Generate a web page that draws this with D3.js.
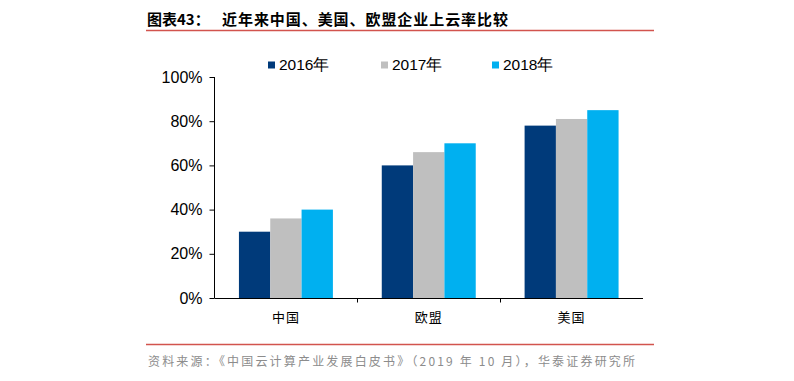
<!DOCTYPE html>
<html>
<head>
<meta charset="utf-8">
<script src="https://cdn.jsdelivr.net/npm/d3@7"></script>
<style>
  html, body { margin: 0; padding: 0; background: #fff; }
  svg { display: block; }
</style>
</head>
<body>
<div id="chart"></div>
<script>
const categories = ["中国", "欧盟", "美国"];
const seriesNames = ["2016年", "2017年", "2018年"];
const values2016 = [30, 60, 78];
const values2017 = [36, 66, 81];
const values2018 = [40, 70, 85];
const yTicks = [0, 20, 40, 60, 80, 100];
const titleLabel = "图表43：";
const titleText = "近年来中国、美国、欧盟企业上云率比较";
const sourceText = "资料来源：《中国云计算产业发展白皮书》（2019 年 10 月），华泰证券研究所";

const seriesValues = [values2016, values2017, values2018];
const colors = ["#003A7A", "#BFBFBF", "#00B0F0"];

const W = 794, H = 381;
const svg = d3.select("#chart").append("svg").attr("width", W).attr("height", H);

const cjk = "'Noto Sans CJK SC', 'Noto Sans', sans-serif";
const latin = "'Liberation Sans', Arial, sans-serif";

// Title
svg.append("text").attr("x", 147).attr("y", 25)
  .attr("font-family", cjk).attr("font-size", 15).attr("font-weight", "bold")
  .attr("fill", "#000").text(titleLabel);
svg.append("text").attr("x", 222).attr("y", 25)
  .attr("font-family", cjk).attr("font-size", 15).attr("font-weight", "bold")
  .attr("fill", "#000").attr("textLength", 286).attr("lengthAdjust", "spacing")
  .text(titleText);
svg.append("line").attr("x1", 146).attr("x2", 654).attr("y1", 30.5).attr("y2", 30.5)
  .attr("stroke", "#D2544E").attr("stroke-width", 1.5);

// Scales
const x0 = d3.scaleBand().domain(categories).range([214.5, 643]).padding(0);
const x1 = d3.scaleBand().domain(seriesNames).range([0, x0.bandwidth()])
  .paddingInner(0).paddingOuter(0.78);
const y = d3.scaleLinear().domain([0, 100]).range([298, 77]);

// Bars
const groups = svg.append("g").selectAll("g").data(categories).join("g")
  .attr("transform", d => `translate(${x0(d)},0)`);
groups.selectAll("rect")
  .data((c, ci) => seriesNames.map((s, si) => ({ s, si, v: seriesValues[si][ci] })))
  .join("rect")
  .attr("x", d => x1(d.s))
  .attr("width", x1.bandwidth())
  .attr("y", d => y(d.v))
  .attr("height", d => y(0) - y(d.v))
  .attr("fill", d => colors[d.si]);

// Y axis
const yAxis = d3.axisLeft(y).tickValues(yTicks).tickFormat(d => d + "%").tickSize(5).tickPadding(7);
const gy = svg.append("g").attr("transform", "translate(214.5,0)").call(yAxis);
gy.selectAll("path, line").attr("stroke", "#000").attr("stroke-width", 1);
gy.select(".domain").attr("d", `M0,${y(100)}V${y(0)}`);
gy.selectAll("text").attr("font-family", latin).attr("font-size", 16).attr("fill", "#000");

// X axis
const xAxis = d3.axisBottom(x0).tickSize(0).tickPadding(14);
const gx = svg.append("g").attr("transform", "translate(0,298.5)").call(xAxis);
gx.select(".domain").attr("d", `M214.5,0H643`).attr("stroke", "#000");
gx.selectAll("text").attr("font-family", cjk).attr("font-size", 13).attr("fill", "#000")
  .attr("letter-spacing", 1);
// boundary ticks
gx.selectAll(".bound").data(categories.slice(1)).join("line").attr("class", "bound")
  .attr("x1", d => Math.round(x0(d)) + 0.5).attr("x2", d => Math.round(x0(d)) + 0.5)
  .attr("y1", 0).attr("y2", 4).attr("stroke", "#000");

// Legend
const legendX = [268, 381, 492];
const lg = svg.append("g").selectAll("g").data(seriesNames).join("g")
  .attr("transform", (d, i) => `translate(${legendX[i]},0)`);
lg.append("rect").attr("x", 0).attr("y", 61.5).attr("width", 7).attr("height", 7)
  .attr("fill", (d, i) => colors[i]);
lg.append("text").attr("x", 11).attr("y", 70)
  .attr("font-family", latin).attr("font-size", 15.5).attr("fill", "#000")
  .text(d => d);

// Footer
svg.append("line").attr("x1", 146).attr("x2", 654).attr("y1", 344.5).attr("y2", 344.5)
  .attr("stroke", "#D2544E").attr("stroke-width", 1.5);
svg.append("text").attr("x", 148).attr("y", 366)
  .attr("font-family", cjk).attr("font-size", 12).attr("fill", "#8C8C8C")
  .attr("textLength", 487).attr("lengthAdjust", "spacing")
  .text(sourceText);
</script>
</body>
</html>
